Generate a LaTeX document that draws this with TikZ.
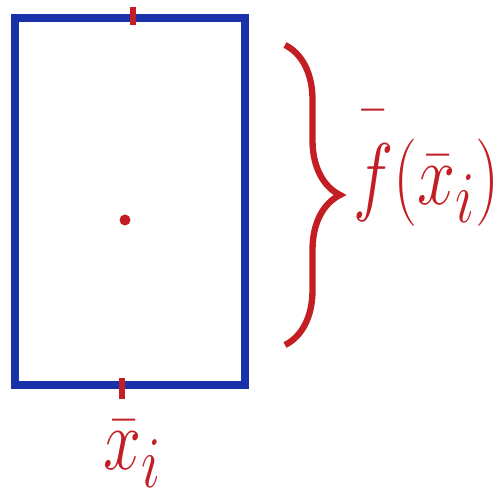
\documentclass[tikz,border=0pt]{standalone}
\usepackage{amsmath, amssymb}
\usetikzlibrary{positioning,calc,decorations.pathreplacing}
\definecolor{inkblue}{RGB}{25,50,170}
\definecolor{inkred}{RGB}{195,30,35}
\tikzset{
  cellbox/.style={draw=inkblue, line width=5pt, minimum width=4.6cm, minimum height=7.34cm, inner sep=0pt},
  ticks/.style={draw=inkred, line width=3.8pt},
  bracemark/.style={draw=inkred, line width=3.6pt, decorate, decoration={brace, amplitude=1.1cm}},
  biglabel/.style={text=inkred, font=\Huge, inner sep=0pt, xscale=1.56, yscale=2.0, transform shape}
}

\begin{document}
\begin{tikzpicture}
  \useasboundingbox (0,0) rectangle (10.02,9.88);
  \node[cellbox] (cell) at (2.60,5.85) {};
  % ticks at the middle of the cell
  \coordinate (topmid) at ($(cell.north)+(0.06,0)$);
  \coordinate (botmid) at ($(cell.south)+(-0.16,0)$);
  \draw[ticks] ($(topmid)+(0,0.14)$) -- ($(topmid)+(0,-0.22)$);
  \draw[ticks] ($(botmid)+(0,0.22)$) -- ($(botmid)+(0,-0.2)$);
  \fill[inkred] (2.50,5.48) circle (0.11);
  % brace and labels
  \coordinate (bracetop) at (5.70,8.98);
  \coordinate (bracebot) at (5.70,2.98);
  \draw[bracemark] (bracetop) -- (bracebot);
  \node[biglabel, anchor=base west] (flabel) at (7.05,5.78) {$\bar{f\rule{0pt}{0.95em}}(\bar{x}_i)$};
  \node[biglabel, anchor=base west] (xlabel) at (2.05,0.48) {$\bar{x}_i$};
\end{tikzpicture}
\end{document}
